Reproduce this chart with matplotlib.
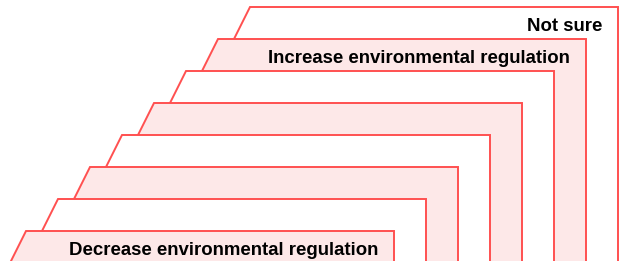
import matplotlib
matplotlib.use("Agg")
import matplotlib.pyplot as plt
from matplotlib.patches import Polygon

# Layers, from front (bottom) to back (top)
labels = ["Decrease environmental regulation", "", "", "", "", "",
          "Increase environmental regulation", "Not sure"]
fills = ["#fde8e8", "#ffffff", "#fde8e8", "#ffffff", "#fde8e8", "#ffffff",
         "#fde8e8", "#ffffff"]
edge = "#ff5050"

W, H = 621, 261
fig = plt.figure(figsize=(W / 100, H / 100), dpi=100)
ax = fig.add_axes([0, 0, 1, 1])
ax.set_xlim(0, W)
ax.set_ylim(H, 0)
ax.axis("off")

n = len(labels)
step = 32          # vertical / horizontal offset between layers
x0_left, x0_right, y0_top = 26, 394, 231   # front layer
slope = 0.5
ybot = H + 10

for i in reversed(range(n)):
    yt = y0_top - step * i
    xl = x0_left + step * i
    xr = x0_right + step * i
    poly = Polygon([(xl, yt), (xr, yt), (xr, ybot), (xl - slope * (ybot - yt), ybot)],
                   closed=True, facecolor=fills[i], edgecolor=edge, linewidth=1.4,
                   joinstyle="miter")
    ax.add_patch(poly)
    if labels[i]:
        ax.text(xr - 16, yt + 24, labels[i], ha="right", va="baseline",
                fontsize=13.45, fontweight="bold", family="Liberation Sans",
                color="#000000")

fig.savefig("out.png", dpi=100)
